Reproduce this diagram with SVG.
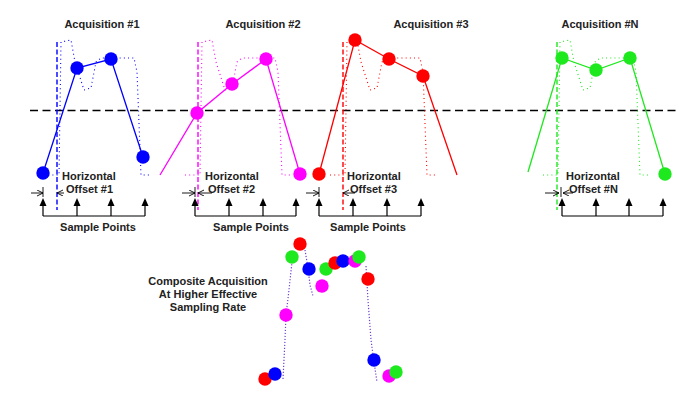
<svg xmlns="http://www.w3.org/2000/svg" width="684" height="394" viewBox="0 0 684 394">
<defs>
<style>
text{font-family:"Liberation Sans",Arial,sans-serif;font-weight:bold;font-size:11px;fill:#222}
.t{text-anchor:middle}
.k{stroke:#000;stroke-width:1.2;fill:none}
.thin{stroke:#000;stroke-width:0.9;fill:none}
.wave{fill:none;stroke-width:1.1;stroke-dasharray:1,3.2}
.sol{fill:none;stroke-width:1.3}
.vd{fill:none;stroke-width:1.4;stroke-dasharray:5,2.5}
.sb{stroke:#0000ff}.sm{stroke:#ff00ff}.sr{stroke:#ff0000}.sg{stroke:#1ee81e}
.fb{fill:#0000ff}.fm{fill:#ff00ff}.fr{fill:#ff0000}.fg{fill:#1ee81e}
</style>
<marker id="ah" markerWidth="8" markerHeight="8" refX="6" refY="3" orient="auto" markerUnits="userSpaceOnUse">
<path d="M0,0 L6,3 L0,6" fill="none" stroke="#000" stroke-width="0.9"/>
</marker>
<path id="wv" d="M-15,175 L0,175 L2,42 L12,40 L16,62 L25,90 L32,88 L37,62 L42,58 L75,58 L78,72 L82,175 L92,175"/>
<g id="samp">
<line class="k" x1="0" y1="216" x2="0" y2="204"/><path d="M-3.5,206 L3.5,206 L0,198 Z" fill="#000"/>
</g>
</defs>

<g id="connectors">
<line x1="30" y1="110.5" x2="680" y2="110.5" stroke="#000" stroke-width="1.3" stroke-dasharray="8,4.5"/>
</g>

<g id="acq1">
<text class="t" x="102" y="28">Acquisition #1</text>
<use href="#wv" class="wave sb" x="59"/>
<line class="vd sb" x1="57" y1="42" x2="57" y2="210"/>
<polyline class="sol sb" points="43,173 77,68 111,59 143,157"/>
<g class="fb"><circle cx="43" cy="173" r="6.7"/><circle cx="77" cy="68" r="6.7"/><circle cx="111" cy="59" r="6.7"/><circle cx="143" cy="157" r="6.7"/></g>
<text x="62" y="180">Horizontal</text>
<text x="66" y="193">Offset #1</text>
<line class="thin" x1="31" y1="193" x2="43" y2="193" marker-end="url(#ah)"/>
<line class="thin" x1="64" y1="193" x2="57" y2="193" marker-end="url(#ah)"/>
<line class="thin" x1="43" y1="187" x2="43" y2="197"/>
<use href="#samp" x="43"/><use href="#samp" x="77"/><use href="#samp" x="111"/><use href="#samp" x="145"/>
<line class="k" x1="43" y1="216" x2="145" y2="216"/>
<text class="t" x="98" y="231">Sample Points</text>
</g>

<g id="acq2">
<text class="t" x="263" y="28">Acquisition #2</text>
<use href="#wv" class="wave sm" x="200"/>
<line class="vd sm" x1="198" y1="42" x2="198" y2="210"/>
<polyline class="sol sm" points="160,175 197,113 232,84 266,59 300,174"/>
<g class="fm"><circle cx="197" cy="113" r="6.7"/><circle cx="232" cy="84" r="6.7"/><circle cx="266" cy="59" r="6.7"/><circle cx="300" cy="174" r="6.7"/></g>
<text x="205" y="180">Horizontal</text>
<text x="208" y="193">Offset #2</text>
<line class="thin" x1="182" y1="193" x2="195" y2="193" marker-end="url(#ah)"/>
<line class="thin" x1="212" y1="193" x2="198" y2="193" marker-end="url(#ah)"/>
<line class="thin" x1="195" y1="187" x2="195" y2="197"/>
<use href="#samp" x="195"/><use href="#samp" x="229"/><use href="#samp" x="263"/><use href="#samp" x="296"/>
<line class="k" x1="195" y1="216" x2="296" y2="216"/>
<text class="t" x="251" y="231">Sample Points</text>
</g>

<g id="acq3">
<text class="t" x="431" y="28">Acquisition #3</text>
<use href="#wv" class="wave sr" x="345"/>
<line class="vd sr" x1="343" y1="42" x2="343" y2="210"/>
<polyline class="sol sr" points="319,174 355,40 389,59 423,76 457,175"/>
<g class="fr"><circle cx="319" cy="174" r="6.7"/><circle cx="355" cy="40" r="6.7"/><circle cx="389" cy="59" r="6.7"/><circle cx="423" cy="76" r="6.7"/></g>
<text x="347" y="180">Horizontal</text>
<text x="350" y="193">Offset #3</text>
<line class="thin" x1="306" y1="193" x2="319" y2="193" marker-end="url(#ah)"/>
<line class="thin" x1="355" y1="193" x2="343" y2="193" marker-end="url(#ah)"/>
<line class="thin" x1="319" y1="187" x2="319" y2="197"/>
<use href="#samp" x="319"/><use href="#samp" x="353"/><use href="#samp" x="387"/><use href="#samp" x="421"/>
<line class="k" x1="319" y1="216" x2="421" y2="216"/>
<text class="t" x="368" y="231">Sample Points</text>
</g>

<g id="acqN">
<text class="t" x="600" y="28">Acquisition #N</text>
<use href="#wv" class="wave sg" x="558"/>
<line class="vd sg" x1="557" y1="42" x2="557" y2="210"/>
<polyline class="sol sg" points="528,172 562,58 596,70 630,58 665,174"/>
<g class="fg"><circle cx="562" cy="58" r="6.7"/><circle cx="596" cy="70" r="6.7"/><circle cx="630" cy="58" r="6.7"/><circle cx="665" cy="174" r="6.7"/></g>
<text x="566" y="180">Horizontal</text>
<text x="569" y="193">Offset #N</text>
<line class="thin" x1="545" y1="193" x2="559" y2="193" marker-end="url(#ah)"/>
<line class="thin" x1="573" y1="193" x2="563" y2="193" marker-end="url(#ah)"/>
<line class="thin" x1="561" y1="187" x2="561" y2="197"/>
<use href="#samp" x="562"/><use href="#samp" x="596"/><use href="#samp" x="629"/><use href="#samp" x="663"/>
<line class="k" x1="562" y1="216" x2="663" y2="216"/>
</g>

<g id="composite">
<text class="t" x="208" y="285">Composite Acquisition</text>
<text class="t" x="208" y="298">At Higher Effective</text>
<text class="t" x="208" y="311">Sampling Rate</text>
<g fill="none" stroke-width="1.2" stroke-dasharray="1.2,1.8">
<polyline stroke="#7040d0" points="283,379 285,340 286,315 289,290 292,262"/>
<polyline stroke="#7040d0" points="305,250 308,268 310,285 313,296"/>
<polyline stroke="#c08040" points="318,292 322,285"/>
<polyline stroke="#7040d0" points="366,266 368,300 371,340 374,362 377,382"/>
</g>
<circle class="fr" cx="265" cy="379" r="6.7"/>
<circle class="fb" cx="275" cy="374" r="6.7"/>
<circle class="fm" cx="286" cy="315" r="6.7"/>
<circle class="fg" cx="292" cy="257" r="6.7"/>
<circle class="fr" cx="300" cy="244" r="6.7"/>
<circle class="fb" cx="309" cy="269" r="6.7"/>
<circle class="fm" cx="322" cy="286" r="6.7"/>
<circle class="fg" cx="326" cy="269" r="6.7"/>
<circle class="fr" cx="335" cy="263" r="6.7"/>
<circle class="fb" cx="343" cy="261" r="6.7"/>
<circle class="fm" cx="355" cy="261" r="6.7"/>
<circle class="fg" cx="359" cy="257" r="6.7"/>
<circle class="fr" cx="368" cy="279" r="6.7"/>
<circle class="fb" cx="374" cy="360" r="6.7"/>
<circle class="fm" cx="389" cy="376" r="6.7"/>
<circle class="fg" cx="396" cy="372" r="6.7"/>
</g>
</svg>
